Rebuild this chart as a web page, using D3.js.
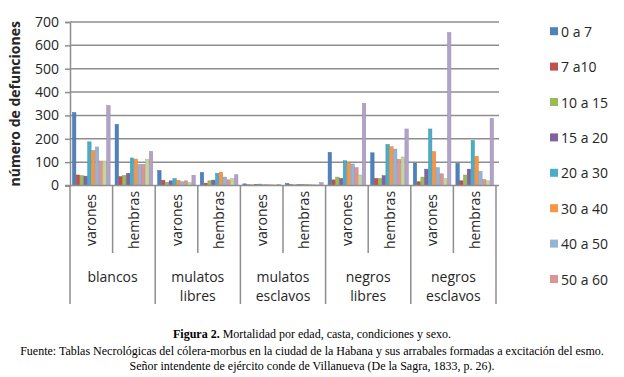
<!DOCTYPE html>
<html lang="es">
<head>
<meta charset="UTF-8">
<title>Mortalidad por edad, casta, condiciones y sexo</title>
<script src="https://d3js.org/d3.v7.min.js"></script>
<style>
  body { margin: 0; background: #fff; }
  svg { display: block; }
</style>
</head>
<body>
<svg id="chart"></svg>
<script>
// categories (castes) and the sub-categories (sex)
const groups = [["blancos"], ["mulatos", "libres"], ["mulatos", "esclavos"], ["negros", "libres"], ["negros", "esclavos"]];
const sexes = ["varones", "hembras"];

// age bands; the last two are drawn but the legend cuts them off
const ageBands = ["0 a 7", "7 a10", "10 a 15", "15 a 20", "20 a 30", "30 a 40", "40 a 50", "50 a 60", "60 a 70", "más de 70"];
const legendShown = 8;

const colors = ["#4f81bd", "#c0504d", "#9bbb59", "#8064a2", "#4bacc6", "#f79646", "#95b3d7", "#d99694", "#c3d69b", "#b3a2c7"];

// one row per group/sex, one value per age band
const values = [
  [312, 45, 42, 40, 187, 150, 165, 105, 105, 342],   // blancos varones
  [262, 38, 43, 52, 118, 113, 90, 90, 112, 146],     // blancos hembras
  [64, 22, 14, 20, 30, 22, 16, 20, 12, 44],          // mulatos libres varones
  [56, 10, 20, 23, 52, 57, 36, 24, 30, 46],          // mulatos libres hembras
  [7, 3, 3, 5, 6, 4, 4, 3, 3, 5],                    // mulatos esclavos varones
  [9, 4, 3, 4, 5, 5, 4, 3, 3, 12],                   // mulatos esclavos hembras
  [142, 24, 36, 30, 106, 100, 92, 76, 45, 352],      // negros libres varones
  [140, 30, 30, 42, 176, 166, 156, 112, 122, 242],   // negros libres hembras
  [96, 16, 36, 70, 242, 145, 76, 50, 30, 655],       // negros esclavos varones
  [95, 20, 45, 70, 193, 125, 60, 25, 20, 287]        // negros esclavos hembras
];

const yTicks = [0, 100, 200, 300, 400, 500, 600, 700];

const captionLines = [
  "Mortalidad por edad, casta, condiciones y sexo.",
  "Fuente: Tablas Necrológicas del cólera-morbus en la ciudad de la Habana y sus arrabales formadas a excitación del esmo.",
  "Señor intendente de ejército conde de Villanueva (De la Sagra, 1833, p. 26)."
];

const width = 624, height = 377;
const plot = { left: 70, right: 496, top: 22, bottom: 185.5, axisBottom: 304 };

const svg = d3.select("#chart").attr("width", width).attr("height", height);

const cats = [];
groups.forEach((g, gi) => sexes.forEach(s => cats.push(gi + "-" + s)));

const x = d3.scaleBand().domain(cats).range([plot.left, plot.right]);
const xInner = d3.scaleBand().domain(d3.range(ageBands.length))
  .range([0, x.bandwidth()]).paddingInner(0.1).paddingOuter(0.65);
const y = d3.scaleLinear().domain([0, 700]).range([plot.bottom, plot.top]);

// gridlines
svg.append("g")
  .selectAll("line")
  .data(yTicks.slice(1))
  .join("line")
  .attr("x1", plot.left).attr("x2", plot.right + 3)
  .attr("y1", d => y(d)).attr("y2", d => y(d))
  .attr("stroke", "#8e8e8e").attr("stroke-width", 1.5);

// y axis
const yAxis = svg.append("g")
  .attr("transform", "translate(" + plot.left + ",0)")
  .call(d3.axisLeft(y).tickValues(yTicks).tickSize(5).tickPadding(6));
yAxis.select(".domain").attr("stroke", "#8e8e8e").attr("stroke-width", 1.5);
yAxis.selectAll(".tick line").attr("stroke", "#8e8e8e").attr("stroke-width", 1.5);
yAxis.selectAll("text")
  .attr("font-family", "'Open Sans', 'Liberation Sans', sans-serif")
  .attr("font-size", 14).attr("fill", "#262626");

svg.append("text")
  .attr("transform", "translate(20," + ((plot.top + plot.bottom) / 2) + ") rotate(-90)")
  .attr("text-anchor", "middle")
  .attr("font-family", "'Open Sans', 'Liberation Sans', sans-serif")
  .attr("font-size", 14).attr("font-weight", "bold").attr("fill", "#262626")
  .text("número de defunciones");

// bars
const rows = svg.append("g").selectAll("g")
  .data(values)
  .join("g")
  .attr("transform", (d, i) => "translate(" + x(cats[i]) + ",0)");

rows.selectAll("rect")
  .data(d => d)
  .join("rect")
  .attr("x", (d, i) => xInner(i))
  .attr("width", xInner.bandwidth())
  .attr("y", d => y(d))
  .attr("height", d => y(0) - y(d))
  .attr("fill", (d, i) => colors[i])
  .attr("stroke", (d, i) => d3.color(colors[i]).darker(0.4))
  .attr("stroke-width", 0.5);

// category axis: baseline and separators
const axisG = svg.append("g").attr("stroke", "#8e8e8e").attr("stroke-width", 1.5);
axisG.append("line")
  .attr("x1", plot.left - 5).attr("x2", plot.right + 3)
  .attr("y1", plot.bottom).attr("y2", plot.bottom);

const groupEdges = [plot.left].concat(groups.map((g, gi) => x(gi + "-hembras") + x.bandwidth()));
axisG.selectAll(".gsep")
  .data(groupEdges)
  .join("line")
  .attr("class", "gsep")
  .attr("x1", d => d).attr("x2", d => d)
  .attr("y1", plot.bottom).attr("y2", plot.axisBottom);

axisG.selectAll(".ssep")
  .data(groups.map((g, gi) => x(gi + "-hembras")))
  .join("line")
  .attr("class", "ssep")
  .attr("x1", d => d).attr("x2", d => d)
  .attr("y1", plot.bottom).attr("y2", 253);

const labelFont = "'Open Sans', 'Liberation Sans', sans-serif";

svg.append("g").selectAll("text")
  .data(cats)
  .join("text")
  .attr("transform", d => "translate(" + (x(d) + x.bandwidth() / 2 + 5) + ",220) rotate(-90)")
  .attr("text-anchor", "middle")
  .attr("font-family", labelFont).attr("font-size", 14).attr("fill", "#262626")
  .text(d => d.split("-")[1]);

const groupLabels = svg.append("g").selectAll("text")
  .data(groups)
  .join("text")
  .attr("x", (g, gi) => x(gi + "-varones") + x.bandwidth())
  .attr("y", 282)
  .attr("text-anchor", "middle")
  .attr("font-family", labelFont).attr("font-size", 14).attr("fill", "#262626");
groupLabels.selectAll("tspan")
  .data(g => g)
  .join("tspan")
  .attr("x", function() { return this.parentNode.getAttribute("x"); })
  .attr("dy", (d, i) => i === 0 ? 0 : 19)
  .text(d => d);

// legend
const legend = svg.append("g").selectAll("g")
  .data(ageBands.slice(0, legendShown))
  .join("g")
  .attr("transform", (d, i) => "translate(550," + (31.7 + i * 35.4) + ")");
legend.append("rect")
  .attr("x", 0).attr("y", -4.5).attr("width", 8).attr("height", 8)
  .attr("fill", (d, i) => colors[i]);
legend.append("text")
  .attr("x", 11).attr("y", 5)
  .attr("font-family", labelFont).attr("font-size", 14).attr("fill", "#262626")
  .text(d => d);

// caption
const cap = svg.append("g")
  .attr("font-family", "'Liberation Serif', 'Times New Roman', serif")
  .attr("font-size", 12).attr("fill", "#000").attr("text-anchor", "middle");
const line1 = cap.append("text").attr("x", width / 2).attr("y", 338);
line1.append("tspan").attr("font-weight", "bold").text("Figura 2. ");
line1.append("tspan").text(captionLines[0]);
cap.append("text").attr("x", width / 2).attr("y", 355).text(captionLines[1]);
cap.append("text").attr("x", width / 2).attr("y", 370).text(captionLines[2]);
</script>
</body>
</html>
